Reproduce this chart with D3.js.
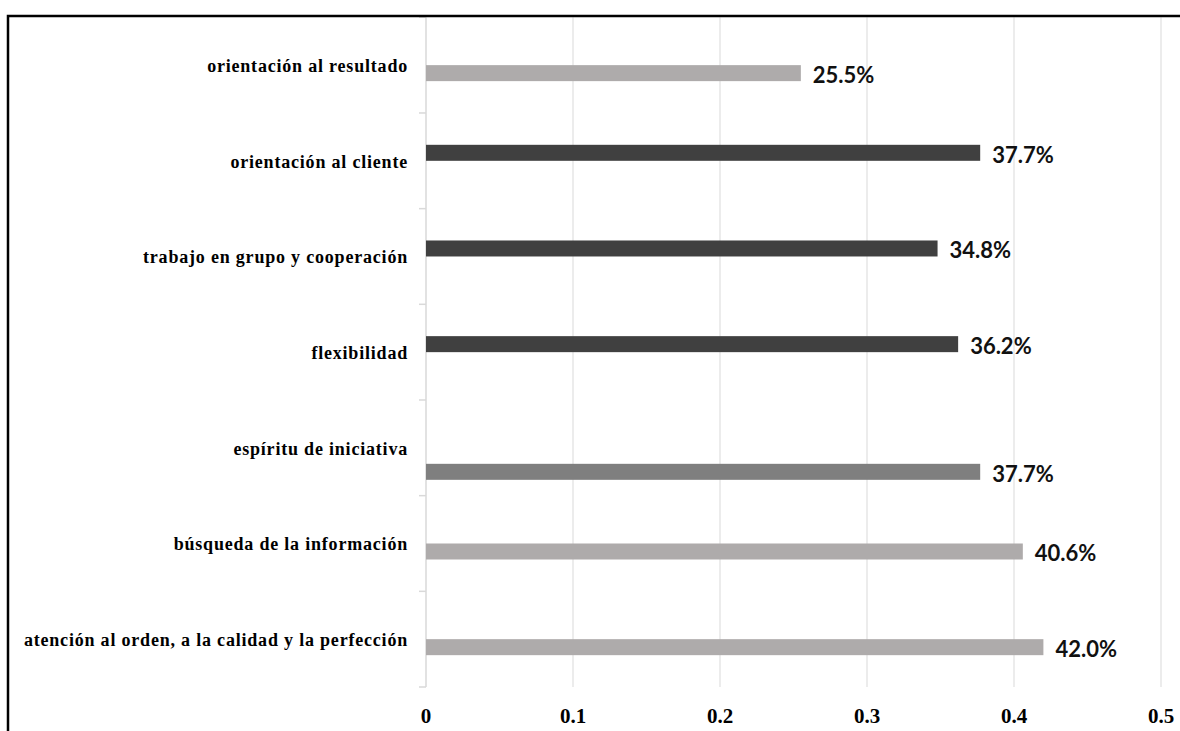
<!DOCTYPE html>
<html>
<head>
<meta charset="utf-8">
<script src="https://cdn.jsdelivr.net/npm/d3@7"></script>
<style>
  html, body { margin: 0; padding: 0; background: #fff; }
  svg { display: block; }
</style>
</head>
<body>
<svg id="chart" width="1180" height="731"></svg>
<script>
// ---- data ----
const categories = [
  "orientación al resultado",
  "orientación al cliente",
  "trabajo en grupo y cooperación",
  "flexibilidad",
  "espíritu de iniciativa",
  "búsqueda de la información",
  "atención al orden, a la calidad y la perfección"
];
const slots = ["vacío", "oscuro", "claro", "medio"];
const darkValues   = [null, 0.377, 0.348, 0.362, null, null, null];
const lightValues  = [0.255, null, null, null, null, 0.406, 0.420];
const mediumValues = [null, null, null, null, 0.377, null, null];
const xTicks = [0, 0.1, 0.2, 0.3, 0.4, 0.5];
const xTickLabels = ["0", "0.1", "0.2", "0.3", "0.4", "0.5"];

const seriesList = [
  { slot: "oscuro", values: darkValues,   color: "#404040" },
  { slot: "claro",  values: lightValues,  color: "#AEABAB" },
  { slot: "medio",  values: mediumValues, color: "#7F7F7F" }
];

// ---- layout ----
const svg = d3.select("#chart");
const plotLeft = 426, plotRight = 1161, plotTop = 17.3, plotBottom = 687;

const x = d3.scaleLinear().domain([0, 0.5]).range([plotLeft, plotRight]);
const y = d3.scaleBand().domain(categories).range([plotTop, plotBottom]).paddingInner(0).paddingOuter(0);
const bw = y.bandwidth();
const sub = d3.scaleBand().domain(slots).range([bw / 2 - 32, bw / 2 + 32]);

svg.append("rect").attr("width", 1180).attr("height", 731).attr("fill", "#fff");

// gridlines
svg.append("g").selectAll("line")
  .data(xTicks.filter(t => t > 0))
  .join("line")
  .attr("x1", d => x(d)).attr("x2", d => x(d))
  .attr("y1", plotTop).attr("y2", plotBottom)
  .attr("stroke", "#D9D9D9").attr("stroke-width", 1);

// y axis (category axis) with tick marks at band boundaries
const yAxisG = svg.append("g");
yAxisG.append("line")
  .attr("x1", plotLeft).attr("x2", plotLeft)
  .attr("y1", plotTop).attr("y2", plotBottom)
  .attr("stroke", "#D9D9D9").attr("stroke-width", 1.5);
const boundaries = categories.map(c => y(c)).concat([plotBottom]);
yAxisG.selectAll("line.tick")
  .data(boundaries)
  .join("line")
  .attr("class", "tick")
  .attr("x1", plotLeft - 7).attr("x2", plotLeft)
  .attr("y1", d => d).attr("y2", d => d)
  .attr("stroke", "#D9D9D9").attr("stroke-width", 1.5);

// category labels
svg.append("g").selectAll("text")
  .data(categories)
  .join("text")
  .attr("x", 408)
  .attr("y", d => y(d) + bw / 2 + 7)
  .attr("text-anchor", "end")
  .attr("font-family", "'Liberation Serif', 'Times New Roman', serif")
  .attr("font-weight", "bold")
  .attr("font-size", 18)
  .attr("letter-spacing", 0.8)
  .attr("fill", "#000")
  .text(d => d);

// x axis tick labels
svg.append("g").selectAll("text")
  .data(xTicks)
  .join("text")
  .attr("x", d => x(d))
  .attr("y", 722.5)
  .attr("text-anchor", "middle")
  .attr("font-family", "'Liberation Serif', 'Times New Roman', serif")
  .attr("font-weight", "bold")
  .attr("font-size", 21)
  .attr("fill", "#000")
  .text((d, i) => xTickLabels[i]);

// bars + value labels
seriesList.forEach(s => {
  const rows = categories.map((c, i) => ({ c, v: s.values[i] })).filter(r => r.v != null);
  const g = svg.append("g");
  g.selectAll("rect")
    .data(rows)
    .join("rect")
    .attr("x", x(0))
    .attr("y", d => y(d.c) + sub(s.slot))
    .attr("width", d => x(d.v) - x(0))
    .attr("height", sub.bandwidth())
    .attr("fill", s.color);
  g.selectAll("text")
    .data(rows)
    .join("text")
    .attr("x", d => x(d.v) + 12)
    .attr("y", d => y(d.c) + sub(s.slot) + sub.bandwidth() / 2 + 10)
    .attr("font-family", "Lato, 'Open Sans', sans-serif")
    .attr("font-weight", "bold")
    .attr("font-size", 22)
    .attr("fill", "#111")
    .text(d => d3.format(".1%")(d.v));
});

// outer frame (left and top edges)
svg.append("path")
  .attr("d", "M8,731 L8,16 L1180,16")
  .attr("fill", "none")
  .attr("stroke", "#000")
  .attr("stroke-width", 2.5);
</script>
</body>
</html>
